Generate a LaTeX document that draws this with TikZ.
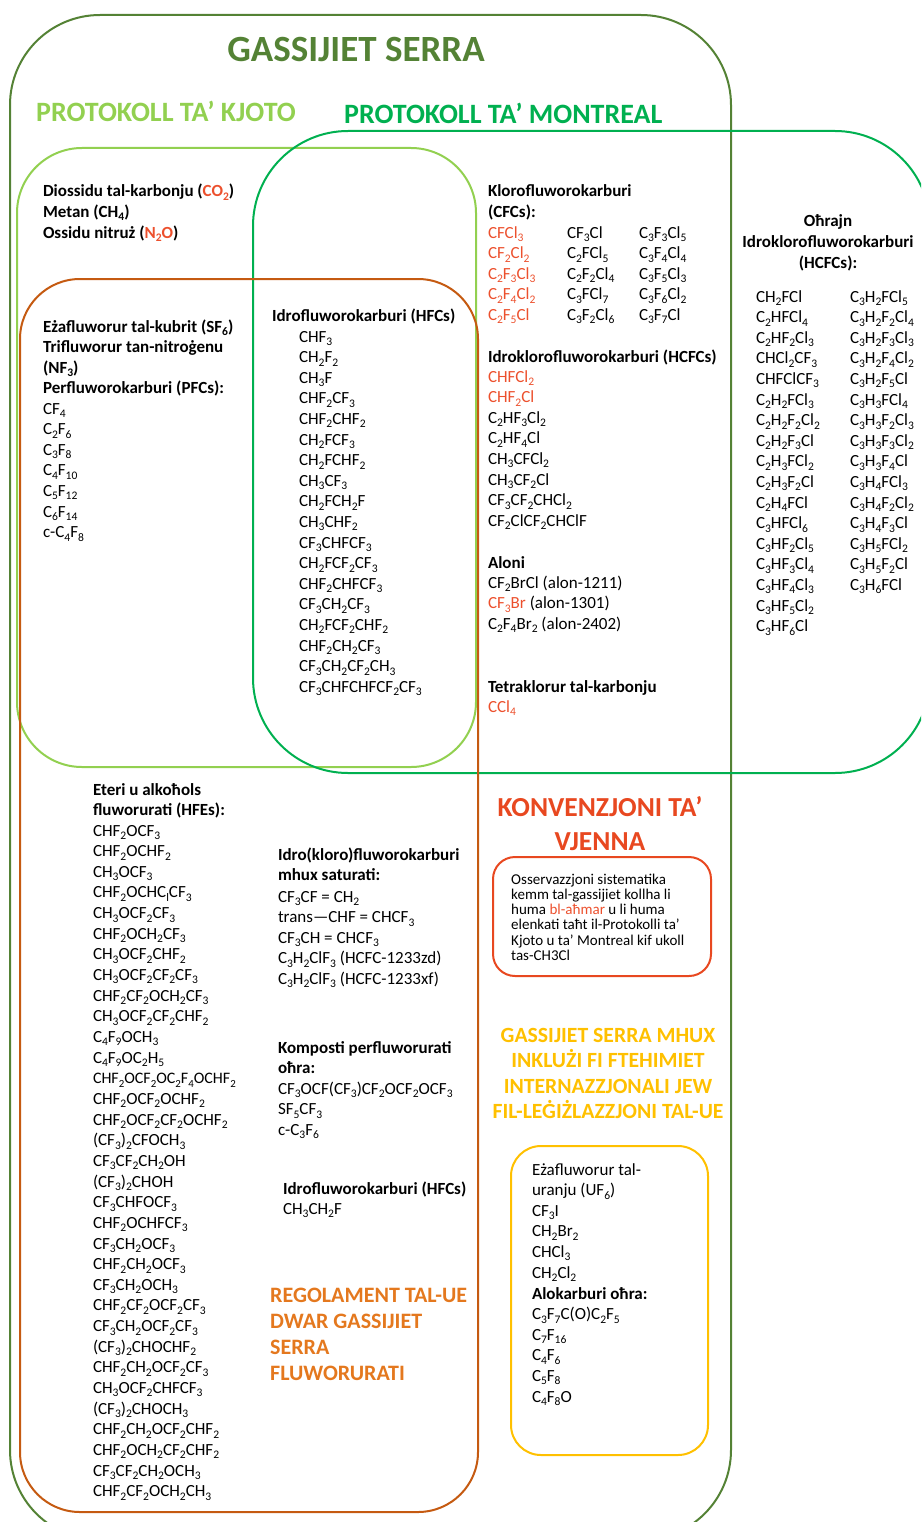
\documentclass[tikz,border=0pt]{standalone}
\usepackage{fontspec}
\setmainfont{Carlito}
\newcommand\Sb[1]{\raisebox{-0.2em}{\scalebox{0.68}{#1}}}
\definecolor{dkgreen}{RGB}{84,130,53}
\definecolor{ltgreen}{RGB}{146,208,80}
\definecolor{mgreen}{RGB}{0,176,80}
\definecolor{regbrown}{RGB}{197,90,17}
\definecolor{regor}{RGB}{228,120,30}
\definecolor{vred}{RGB}{232,72,32}
\definecolor{fred}{RGB}{236,80,45}
\definecolor{yel}{RGB}{255,192,0}
\newcommand\Rd[1]{\textcolor{fred}{#1}}
\begin{document}
\begin{tikzpicture}[x=1pt,y=-1pt,
  frame/.style={line width=2pt},
  txt/.style={anchor=base west, inner sep=0pt, outer sep=0pt, align=left, font=\fontsize{17}{20.6}\selectfont},
  btxt/.style={anchor=base west, inner sep=0pt, outer sep=0pt, align=left, font=\bfseries\fontsize{17}{20.6}\selectfont},
  ]
% note: the base anchor of a multi-line node is the baseline of its last line
\useasboundingbox (0,0) rectangle (921,1522);
\clip (0,0) rectangle (921,1522);
% frames
\draw[frame, dkgreen, rounded corners=90pt] (10,15) rectangle (731,1540);
\draw[frame, ltgreen, rounded corners=65pt] (17,148) rectangle (476,767);
\draw[frame, mgreen, rounded corners=95pt] (253,131) rectangle (930,773);
\draw[frame, regbrown, rounded corners=60pt] (20,279) rectangle (478,1512);
\draw[frame, vred, rounded corners=22pt] (493,857) rectangle (711,976);
\draw[frame, yel, rounded corners=30pt] (511,1146) rectangle (708,1455);
% titles
\node[anchor=base, inner sep=0pt, font=\bfseries\fontsize{37}{40}\selectfont, text=dkgreen] (title) at (356,62) {GASSIJIET SERRA};
\node[anchor=base west, inner sep=0pt, font=\bfseries\fontsize{28}{30}\selectfont, text=ltgreen] (kjoto) at (36,122) {PROTOKOLL TA’ KJOTO};
\node[anchor=base west, inner sep=0pt, font=\bfseries\fontsize{28}{30}\selectfont, text=mgreen] (montreal) at (344,124) {PROTOKOLL TA’ MONTREAL};
% Kjoto only
\node[btxt] (kgas) at (43,238.2) {Diossidu tal-karbonju (\Rd{CO\Sb2})\\Metan (CH\Sb4)\\Ossidu nitruż (\Rd{N\Sb2O})};
% Kjoto + regolament
\node[btxt] (fgas) at (43,393.8) {Eżafluworur tal-kubrit (SF\Sb6)\\Trifluworur tan-nitroġenu\\(NF\Sb3)\\Perfluworokarburi (PFCs):};
\node[txt] (pfc) at (43,537.6) {CF\Sb4\\C\Sb2F\Sb6\\C\Sb3F\Sb8\\C\Sb4F\Sb{10}\\C\Sb5F\Sb{12}\\C\Sb6F\Sb{14}\\c-C\Sb4F\Sb8};
% HFCs
\node[btxt] (hfch) at (272,321) {Idrofluworokarburi (HFCs)};
\node[txt] (hfc) at (299,692.2) {CHF\Sb3\\CH\Sb2F\Sb2\\CH\Sb3F\\CHF\Sb2CF\Sb3\\CHF\Sb2CHF\Sb2\\CH\Sb2FCF\Sb3\\CH\Sb2FCHF\Sb2\\CH\Sb3CF\Sb3\\CH\Sb2FCH\Sb2F\\CH\Sb3CHF\Sb2\\CF\Sb3CHFCF\Sb3\\CH\Sb2FCF\Sb2CF\Sb3\\CHF\Sb2CHFCF\Sb3\\CF\Sb3CH\Sb2CF\Sb3\\CH\Sb2FCF\Sb2CHF\Sb2\\CHF\Sb2CH\Sb2CF\Sb3\\CF\Sb3CH\Sb2CF\Sb2CH\Sb3\\CF\Sb3CHFCHFCF\Sb2CF\Sb3};
% CFCs
\node[btxt] (cfch) at (488,217.6) {Klorofluworokarburi\\(CFCs):};
\node[txt, text=fred] (cfc1) at (488,320.4) {CFCl\Sb3\\CF\Sb2Cl\Sb2\\C\Sb2F\Sb3Cl\Sb3\\C\Sb2F\Sb4Cl\Sb2\\C\Sb2F\Sb5Cl};
\node[txt] (cfc2) at (567,320.4) {CF\Sb3Cl\\C\Sb2FCl\Sb5\\C\Sb2F\Sb2Cl\Sb4\\C\Sb3FCl\Sb7\\C\Sb3F\Sb2Cl\Sb6};
\node[txt] (cfc3) at (639,320.4) {C\Sb3F\Sb3Cl\Sb5\\C\Sb3F\Sb4Cl\Sb4\\C\Sb3F\Sb5Cl\Sb3\\C\Sb3F\Sb6Cl\Sb2\\C\Sb3F\Sb7Cl};
% HCFCs
\node[btxt] (hcfch) at (488,362) {Idroklorofluworokarburi (HCFCs)};
\node[txt] (hcfc) at (488,526.2) {\Rd{CHFCl\Sb2}\\\Rd{CHF\Sb2Cl}\\C\Sb2HF\Sb3Cl\Sb2\\C\Sb2HF\Sb4Cl\\CH\Sb3CFCl\Sb2\\CH\Sb3CF\Sb2Cl\\CF\Sb3CF\Sb2CHCl\Sb2\\CF\Sb2ClCF\Sb2CHClF};
% Aloni
\node[btxt] (alonh) at (488,568) {Aloni};
\node[txt] (alon) at (488,629.2) {CF\Sb2BrCl (alon-1211)\\\Rd{CF\Sb3Br} (alon-1301)\\C\Sb2F\Sb4Br\Sb2 (alon-2402)};
% CCl4
\node[btxt] (tetrah) at (488,692) {Tetraklorur tal-karbonju};
\node[txt, text=fred] (tetra) at (488,712) {CCl\Sb4};
% other HCFCs
\node[anchor=base, inner sep=0pt, align=center, font=\bfseries\fontsize{17}{20.6}\selectfont] (ohrh) at (828,268.2) {Oħrajn\\Idroklorofluworokarburi\\(HCFCs):};
\node[txt] (ohr1) at (756,631.6) {CH\Sb2FCl\\C\Sb2HFCl\Sb4\\C\Sb2HF\Sb2Cl\Sb3\\CHCl\Sb2CF\Sb3\\CHFClCF\Sb3\\C\Sb2H\Sb2FCl\Sb3\\C\Sb2H\Sb2F\Sb2Cl\Sb2\\C\Sb2H\Sb2F\Sb3Cl\\C\Sb2H\Sb3FCl\Sb2\\C\Sb2H\Sb3F\Sb2Cl\\C\Sb2H\Sb4FCl\\C\Sb3HFCl\Sb6\\C\Sb3HF\Sb2Cl\Sb5\\C\Sb3HF\Sb3Cl\Sb4\\C\Sb3HF\Sb4Cl\Sb3\\C\Sb3HF\Sb5Cl\Sb2\\C\Sb3HF\Sb6Cl};
\node[txt] (ohr2) at (850,590.4) {C\Sb3H\Sb2FCl\Sb5\\C\Sb3H\Sb2F\Sb2Cl\Sb4\\C\Sb3H\Sb2F\Sb3Cl\Sb3\\C\Sb3H\Sb2F\Sb4Cl\Sb2\\C\Sb3H\Sb2F\Sb5Cl\\C\Sb3H\Sb3FCl\Sb4\\C\Sb3H\Sb3F\Sb2Cl\Sb3\\C\Sb3H\Sb3F\Sb3Cl\Sb2\\C\Sb3H\Sb3F\Sb4Cl\\C\Sb3H\Sb4FCl\Sb3\\C\Sb3H\Sb4F\Sb2Cl\Sb2\\C\Sb3H\Sb4F\Sb3Cl\\C\Sb3H\Sb5FCl\Sb2\\C\Sb3H\Sb5F\Sb2Cl\\C\Sb3H\Sb6FCl};
% HFEs
\node[btxt] (hfeh) at (93,815.6) {Eteri u alkoħols\\fluworurati (HFEs):};
\node[txt, font=\fontsize{17}{20.65}\selectfont] (hfe) at (93,1496.8) {CHF\Sb2OCF\Sb3\\CHF\Sb2OCHF\Sb2\\CH\Sb3OCF\Sb3\\CHF\Sb2OCHC\Sb{l}CF\Sb3\\CH\Sb3OCF\Sb2CF\Sb3\\CHF\Sb2OCH\Sb2CF\Sb3\\CH\Sb3OCF\Sb2CHF\Sb2\\CH\Sb3OCF\Sb2CF\Sb2CF\Sb3\\CHF\Sb2CF\Sb2OCH\Sb2CF\Sb3\\CH\Sb3OCF\Sb2CF\Sb2CHF\Sb2\\C\Sb4F\Sb9OCH\Sb3\\C\Sb4F\Sb9OC\Sb2H\Sb5\\{\fontsize{16}{20.65}\selectfont CHF\Sb2OCF\Sb2OC\Sb2F\Sb4OCHF\Sb2}\\CHF\Sb2OCF\Sb2OCHF\Sb2\\CHF\Sb2OCF\Sb2CF\Sb2OCHF\Sb2\\(CF\Sb3)\Sb2CFOCH\Sb3\\CF\Sb3CF\Sb2CH\Sb2OH\\(CF\Sb3)\Sb2CHOH\\CF\Sb3CHFOCF\Sb3\\CHF\Sb2OCHFCF\Sb3\\CF\Sb3CH\Sb2OCF\Sb3\\CHF\Sb2CH\Sb2OCF\Sb3\\CF\Sb3CH\Sb2OCH\Sb3\\CHF\Sb2CF\Sb2OCF\Sb2CF\Sb3\\CF\Sb3CH\Sb2OCF\Sb2CF\Sb3\\(CF\Sb3)\Sb2CHOCHF\Sb2\\CHF\Sb2CH\Sb2OCF\Sb2CF\Sb3\\CH\Sb3OCF\Sb2CHFCF\Sb3\\(CF\Sb3)\Sb2CHOCH\Sb3\\CHF\Sb2CH\Sb2OCF\Sb2CHF\Sb2\\CHF\Sb2OCH\Sb2CF\Sb2CHF\Sb2\\CF\Sb3CF\Sb2CH\Sb2OCH\Sb3\\CHF\Sb2CF\Sb2OCH\Sb2CH\Sb3};
% unsaturated
\node[btxt] (unsh) at (278,880.6) {Idro(kloro)fluworokarburi\\mhux saturati:};
\node[txt] (uns) at (278,984.4) {CF\Sb3CF = CH\Sb2\\trans—CHF = CHCF\Sb3\\CF\Sb3CH = CHCF\Sb3\\C\Sb3H\Sb2ClF\Sb3 (HCFC-1233zd)\\C\Sb3H\Sb2ClF\Sb3 (HCFC-1233xf)};
% other perfluorinated
\node[btxt] (komh) at (278,1073.6) {Komposti perfluworurati\\oħra:};
\node[txt] (kom) at (278,1135.2) {CF\Sb3OCF(CF\Sb3)CF\Sb2OCF\Sb2OCF\Sb3\\SF\Sb5CF\Sb3\\c-C\Sb3F\Sb6};
% HFC 2
\node[btxt] (hfc2h) at (283,1194) {Idrofluworokarburi (HFCs)};
\node[txt] (hfc2) at (283,1214) {CH\Sb3CH\Sb2F};
% Regolament label
\node[anchor=base west, inner sep=0pt, align=left, font=\bfseries\fontsize{22}{26}\selectfont, text=regor] (reg) at (270,1380) {REGOLAMENT TAL-UE\\DWAR GASSIJIET\\SERRA\\FLUWORURATI};
% Vienna
\node[anchor=base, inner sep=0pt, align=center, font=\bfseries\fontsize{27.5}{34}\selectfont, text=vred] (vienna) at (600,850) {KONVENZJONI TA’\\VJENNA};
\node[anchor=base west, inner sep=0pt, align=left, font=\fontsize{15}{15.3}\selectfont] (note) at (511,960.5) {Osservazzjoni sistematika\\kemm tal-gassijiet kollha li\\huma \Rd{bl-aħmar} u li huma\\elenkati taħt il-Protokolli ta’\\Kjoto u ta’ Montreal kif ukoll\\tas-CH3Cl};
% not included
\node[anchor=base, inner sep=0pt, align=center, font=\bfseries\fontsize{21.7}{25.5}\selectfont, text=yel] (notinc) at (608,1118.5) {GASSIJIET SERRA MHUX\\INKLUŻI FI FTEHIMIET\\INTERNAZZJONALI JEW\\FIL-LEĠIŻLAZZJONI TAL-UE};
\node[txt] (oth1) at (532,1278) {Eżafluworur tal-\\uranju (UF\Sb6)\\CF\Sb3I\\CH\Sb2Br\Sb2\\CHCl\Sb3\\CH\Sb2Cl\Sb2};
\node[btxt] (othh) at (532,1299) {Alokarburi oħra:};
\node[txt] (oth2) at (532,1402) {C\Sb3F\Sb7C(O)C\Sb2F\Sb5\\C\Sb7F\Sb{16}\\C\Sb4F\Sb6\\C\Sb5F\Sb8\\C\Sb4F\Sb8O};
\end{tikzpicture}
\end{document}
